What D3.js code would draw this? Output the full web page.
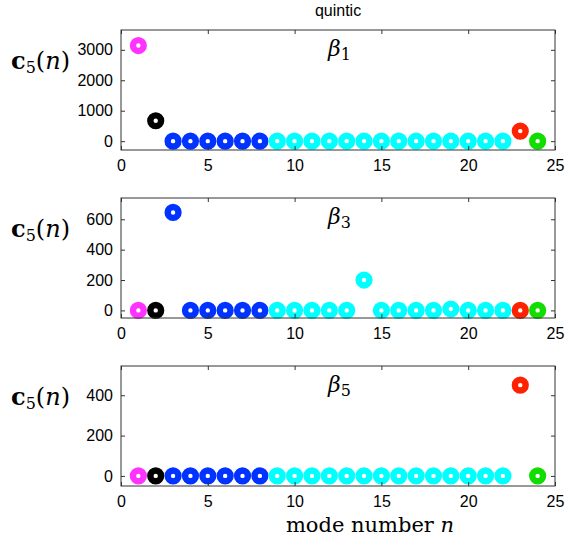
<!DOCTYPE html>
<html>
<head>
<meta charset="utf-8">
<script src="https://cdn.jsdelivr.net/npm/d3@7"></script>
<style>
  body { margin: 0; background: #fff; }
  .tick text { font-family: "Liberation Sans", Arial, sans-serif; font-size: 16px; fill: #000; }
  .serif { font-family: "DejaVu Serif", "Liberation Serif", serif; }
</style>
</head>
<body>
<div id="graph"></div>
<script>
// mode numbers and colour of each mode
var modes = d3.range(1, 25);
var modeColors = ["#ff33ff", "#000000",
    "#0033ff", "#0033ff", "#0033ff", "#0033ff", "#0033ff", "#0033ff",
    "#00ffff", "#00ffff", "#00ffff", "#00ffff", "#00ffff", "#00ffff", "#00ffff",
    "#00ffff", "#00ffff", "#00ffff", "#00ffff", "#00ffff", "#00ffff", "#00ffff",
    "#ff2200", "#11dd00"];

// c5(n) for beta1, beta3, beta5
var beta1 = [3140, 670, 0, 0, 0, 0, 0, 0, 0, 0, 0, 0, 0, 0, 0, 0, 0, 0, 0, 0, 0, 0, 330, 0];
var beta3 = [0, 0, 645, 0, 0, 0, 0, 0, 0, 0, 0, 0, 0, 200, 0, 0, 0, 0, 9, 0, 0, 0, 0, 0];
var beta5 = [0, 0, 0, 0, 0, 0, 0, 0, 0, 0, 0, 0, 0, 0, 0, 0, 0, 0, 0, 0, 0, 0, 450, 0];

var xTicks = [0, 5, 10, 15, 20, 25];
var panels = [
    { values: beta1, sub: "1", domain: [-290, 3650], ticks: [0, 1000, 2000, 3000] },
    { values: beta3, sub: "3", domain: [-50, 740], ticks: [0, 200, 400, 600] },
    { values: beta5, sub: "5", domain: [-50, 545], ticks: [0, 200, 400] }
];

var width = 585, height = 538;
var left = 121, right = 555, panelH = 120, tops = [30, 198, 366];

var svg = d3.select("#graph").append("svg")
    .attr("width", width)
    .attr("height", height);

var x = d3.scaleLinear().domain([0, 25]).range([left, right]);

svg.append("text")
    .attr("x", (left + right) / 2).attr("y", 16)
    .attr("text-anchor", "middle")
    .style("font-family", "Liberation Sans, Arial, sans-serif")
    .style("font-size", "16px")
    .text("quintic");

panels.forEach(function(p, i) {
    var top = tops[i], bottom = top + panelH;
    var y = d3.scaleLinear().domain(p.domain).range([bottom, top]);
    var g = svg.append("g");

    // points
    g.selectAll("circle")
        .data(modes)
        .enter().append("circle")
        .attr("cx", function(d) { return x(d); })
        .attr("cy", function(d, j) { return y(p.values[j]); })
        .attr("r", 5.4)
        .style("fill", "none")
        .style("stroke", function(d, j) { return modeColors[j]; })
        .style("stroke-width", 6.4);

    // box with inner ticks on all sides
    var ax = function(axis, tx, ty) {
        var a = g.append("g").attr("transform", "translate(" + tx + "," + ty + ")").call(axis);
        a.select(".domain").remove();
        a.selectAll(".tick line").style("stroke", "#333");
        return a;
    };
    ax(d3.axisBottom(x).tickValues(xTicks).tickSize(-4).tickFormat(d3.format("d")), 0, bottom)
        .selectAll("text").attr("dy", "0.71em").attr("y", 10);
    ax(d3.axisTop(x).tickValues(xTicks).tickSize(-4).tickFormat(""), 0, top);
    ax(d3.axisLeft(y).tickValues(p.ticks).tickSize(-4).tickPadding(8).tickFormat(d3.format("d")), left, 0);
    ax(d3.axisRight(y).tickValues(p.ticks).tickSize(-4).tickFormat(""), right, 0);

    g.append("rect")
        .attr("x", left).attr("y", top)
        .attr("width", right - left).attr("height", panelH)
        .style("fill", "none")
        .style("stroke", "#333")
        .style("stroke-width", 1);

    // y label c5(n)
    var yl = g.append("text").attr("class", "serif")
        .attr("x", 11).attr("y", top + 39)
        .style("font-size", "24px");
    yl.append("tspan").style("font-weight", "bold").text("c");
    yl.append("tspan").attr("dy", 4).style("font-size", "16px").text("5");
    yl.append("tspan").attr("dy", -4).text("(");
    yl.append("tspan").style("font-style", "italic").text("n");
    yl.append("tspan").text(")");

    // beta label
    var bl = g.append("text").attr("class", "serif")
        .attr("x", 328).attr("y", top + 26)
        .style("font-size", "22px");
    bl.append("tspan").style("font-style", "italic").text("β");
    bl.append("tspan").attr("dy", 4).style("font-size", "16px").text(p.sub);
});

var xl = svg.append("text").attr("class", "serif")
    .attr("x", 370).attr("y", 532)
    .attr("text-anchor", "middle")
    .style("font-size", "21px");
xl.append("tspan").text("mode number ");
xl.append("tspan").style("font-style", "italic").text("n");
</script>
</body>
</html>
